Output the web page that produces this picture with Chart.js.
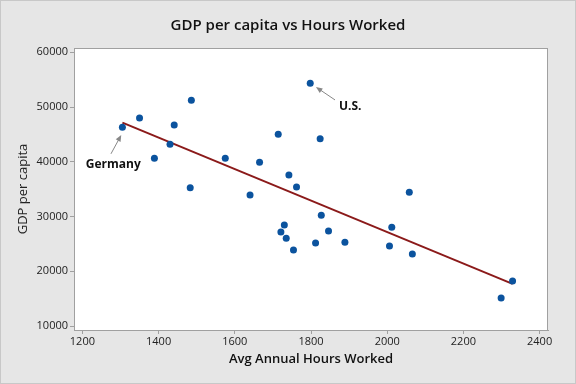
<!DOCTYPE html>
<html>
<head>
<meta charset="utf-8">
<script src="https://cdn.jsdelivr.net/npm/chart.js@4/dist/chart.umd.min.js"></script>
<style>
  html, body { margin: 0; padding: 0; background: #e6e6e6; }
  canvas { display: block; }
</style>
</head>
<body>
<canvas id="myChart" width="576" height="384"></canvas>
<script>
// DATA
const hoursWorked = [1305, 1350, 1486, 1441, 1389, 1430, 1575, 1665, 1714, 1798, 1824, 1483, 1640, 1742, 1762,
    1730, 1721, 1735, 1754, 1812, 1827, 1846, 1889, 2012, 2006, 2058, 2066, 2329, 2299];
const gdpPerCapita = [46300, 48000, 51240, 46700, 40650, 43200, 40650, 39900, 45050, 54350, 44200, 35250, 33950, 37600, 35400,
    28450, 27150, 26050, 23900, 25150, 30250, 27350, 25300, 28050, 24600, 34450, 23150, 18200, 15100];

const fitHours = [1305, 2329];
const fitGdp = [47150, 17700];

const xTicks = [1200, 1400, 1600, 1800, 2000, 2200, 2400];
const yTicks = [10000, 20000, 30000, 40000, 50000, 60000];

// annotations: label position and arrow tail/tip, in data units
const noteLabels = ["Germany", "U.S."];
const noteX = [1281, 1903];
const noteY = [39450, 50000];
const arrowFromX = [1275, 1863];
const arrowFromY = [41450, 51300];
const arrowToX = [1302, 1813];
const arrowToY = [44900, 53650];

const FONT = "'Open Sans', 'Noto Sans', sans-serif";


const chartDecor = {
    id: "chartDecor",
    beforeDraw(chart) {
        const {ctx, chartArea: a} = chart;
        ctx.save();
        ctx.fillStyle = "#e6e6e6";
        ctx.fillRect(0, 0, chart.width, chart.height);
        ctx.strokeStyle = "#c8c8c8";
        ctx.lineWidth = 1;
        ctx.strokeRect(0.5, 0.5, chart.width - 1, chart.height - 1);
        ctx.fillStyle = "#ffffff";
        ctx.fillRect(a.left, a.top, a.right - a.left, a.bottom - a.top);
        ctx.restore();
    },
    afterDraw(chart) {
        const {ctx, chartArea: a, scales} = chart;
        ctx.save();
        ctx.strokeStyle = "#a0a0a0";
        ctx.lineWidth = 1;
        ctx.strokeRect(a.left + 0.5, a.top + 0.5, a.right - a.left - 1, a.bottom - a.top);

        ctx.fillStyle = "#111";
        ctx.textAlign = "center";
        ctx.textBaseline = "middle";
        ctx.font = "600 15px " + FONT;
        ctx.fillText("GDP per capita vs Hours Worked", chart.width / 2, 26);

        ctx.font = "600 13px " + FONT;
        ctx.fillText("Avg Annual Hours Worked", (a.left + a.right) / 2, 359);

        ctx.save();
        ctx.translate(23, (a.top + a.bottom) / 2);
        ctx.rotate(-Math.PI / 2);
        ctx.font = "13px " + FONT;
        ctx.fillStyle = "#222";
        ctx.fillText("GDP per capita", 0, 0);
        ctx.restore();

        // annotations
        noteLabels.forEach((label, i) => {
            ctx.font = "bold 12px " + FONT;
            ctx.fillStyle = "#111";
            ctx.fillText(label, scales.x.getPixelForValue(noteX[i]), scales.y.getPixelForValue(noteY[i]));

            const x0 = scales.x.getPixelForValue(arrowFromX[i]);
            const y0 = scales.y.getPixelForValue(arrowFromY[i]);
            const x1 = scales.x.getPixelForValue(arrowToX[i]);
            const y1 = scales.y.getPixelForValue(arrowToY[i]);
            const ang = Math.atan2(y1 - y0, x1 - x0);
            ctx.strokeStyle = "#888";
            ctx.fillStyle = "#888";
            ctx.lineWidth = 1;
            ctx.beginPath();
            ctx.moveTo(x0, y0);
            ctx.lineTo(x1 - 5 * Math.cos(ang), y1 - 5 * Math.sin(ang));
            ctx.stroke();
            ctx.beginPath();
            ctx.moveTo(x1, y1);
            ctx.lineTo(x1 - 7 * Math.cos(ang - 0.4), y1 - 7 * Math.sin(ang - 0.4));
            ctx.lineTo(x1 - 7 * Math.cos(ang + 0.4), y1 - 7 * Math.sin(ang + 0.4));
            ctx.closePath();
            ctx.fill();
        });
        ctx.restore();
    }
};


const ctx = document.getElementById("myChart").getContext("2d");

new Chart(ctx, {
    type: "scatter",
    data: {
        datasets: [
            {
                type: "line",
                data: fitHours.map((h, i) => ({x: h, y: fitGdp[i]})),
                borderColor: "#8b1a1a",
                borderWidth: 2,
                pointRadius: 0,
                fill: false,
                order: 2,
            },
            {
                data: hoursWorked.map((h, i) => ({x: h, y: gdpPerCapita[i]})),
                backgroundColor: "#0b539e",
                borderColor: "#0b539e",
                pointRadius: 3.5,
                borderWidth: 0,
                order: 1,
            },
        ],
    },
    options: {
        responsive: false,
        animation: false,
        layout: {padding: {top: 48, right: 28, bottom: 0, left: 0}},
        plugins: {
            legend: {display: false},
            tooltip: {enabled: false},
        },
        scales: {
            x: {
                type: "linear",
                min: 1178,
                max: 2422,
                afterFit: (s) => { s.height = 54; },
                afterBuildTicks: (s) => { s.ticks = xTicks.map(v => ({value: v})); },
                border: {color: "#a0a0a0"},
                grid: {drawOnChartArea: false, drawTicks: true, tickLength: 4, color: "#a0a0a0"},
                ticks: {padding: 1, color: "#222", font: {family: FONT, size: 11}, maxRotation: 0, callback: (v) => String(v)},
            },
            y: {
                type: "linear",
                min: 9270,
                max: 60785,
                afterFit: (s) => { s.width = 74; },
                afterBuildTicks: (s) => { s.ticks = yTicks.map(v => ({value: v})); },
                border: {color: "#a0a0a0"},
                grid: {drawOnChartArea: false, drawTicks: true, tickLength: 4, color: "#a0a0a0"},
                ticks: {padding: 2, color: "#222", font: {family: FONT, size: 11}, callback: (v) => String(v)},
            },
        },
    },
    plugins: [chartDecor],
});
</script>
</body>
</html>
